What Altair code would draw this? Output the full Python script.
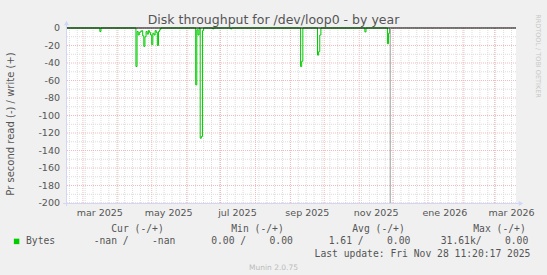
import altair as alt
import pandas as pd

# ---------------- data ----------------
TITLE = "Disk throughput for /dev/loop0 - by year"
Y_TITLE = "Pr second read (-) / write (+)"
WATERMARK = "RRDTOOL / TOBI OETIKER"
FOOTER = "Munin 2.0.75"
LAST_UPDATE = "Last update: Fri Nov 28 11:20:17 2025"
SERIES_NAME = "Bytes"

read_dates = [
    "2025-02-14", "2025-03-15", "2025-03-16", "2025-03-17",
    "2025-04-16", "2025-04-17", "2025-04-18", "2025-04-19", "2025-04-20", "2025-04-21",
    "2025-04-22", "2025-04-23", "2025-04-24", "2025-04-25", "2025-04-26", "2025-04-27",
    "2025-04-28", "2025-04-29", "2025-04-30", "2025-05-01", "2025-05-02", "2025-05-03",
    "2025-05-04", "2025-05-05", "2025-05-06", "2025-05-07", "2025-05-08", "2025-05-09",
    "2025-06-08", "2025-06-09", "2025-06-10", "2025-06-11", "2025-06-12", "2025-06-13",
    "2025-06-14", "2025-06-15", "2025-06-16", "2025-06-24", "2025-06-25", "2025-07-10",
    "2025-07-11",
    "2025-09-09", "2025-09-10", "2025-09-11", "2025-09-12",
    "2025-09-24", "2025-09-25", "2025-09-26", "2025-09-27", "2025-09-28",
    "2025-11-05", "2025-11-06", "2025-11-07",
    "2025-11-25", "2025-11-26", "2025-11-27", "2025-11-28",
]
read_values = [
    0, 0, -4, 0,
    0, -44, -4, -8, -5, -4,
    -3, -9, -21, -10, -4, -7,
    -3, -5, -8, -19, -6, -8,
    -3, -5, -20, -4, -2, 0,
    0, -65, -2, -8, 0, -126,
    -124, -3, 0, -1, 0, -1,
    0,
    0, -44, -38, 0,
    0, -31, -27, -8, 0,
    0, -4.5, 0,
    0, -18, -6, 0,
]

x_label_dates = ["2025-03-16", "2025-05-16", "2025-07-16", "2025-09-16",
                 "2025-11-16", "2026-01-16", "2026-03-16"]
x_label_texts = ["mar 2025", "may 2025", "jul 2025", "sep 2025",
                 "nov 2025", "ene 2026", "mar 2026"]

y_tick_values = [0, -20, -40, -60, -80, -100, -120, -140, -160, -180, -200]
y_tick_labels = ["0", "-20", "-40", "-60", "-80", "-100", "-120", "-140",
                 "-160", "-180", "-200"]
y_minor_values = [-10, -30, -50, -70, -90, -110, -130, -150, -170, -190]

month_starts = ["2025-03-01", "2025-04-01", "2025-05-01", "2025-06-01", "2025-07-01",
                "2025-08-01", "2025-09-01", "2025-10-01", "2025-11-01", "2025-12-01",
                "2026-01-01", "2026-02-01", "2026-03-01"]
now_marker = ["2025-11-28T11:20:17"]

legend_headers = ["Cur (-/+)", "Min (-/+)", "Avg (-/+)", "Max (-/+)"]
legend_values = ["-nan /    -nan", "0.00 /    0.00", "1.61 /    0.00", "31.61k/    0.00"]

# ---------------- layout / style ----------------
W, H = 450, 175
PAD = {"left": 66, "top": 28, "right": 31, "bottom": 72}
FONT = "DejaVu Sans"
MONO = "DejaVu Sans Mono"
TXT = "#555555"
GREEN = "#00cc00"
AXIS = "#cfd6f8"
GRID_MINOR = "#dcdcdc"
GRID_MAJOR = "#f0bcbc"

header_x = [71.5, 191.5, 312.5, 433.5]
value_x = [68.5, 186, 303.5, 418.5]

def loc(d):
    return d if "T" in d else d + "T00:00:00"

week_starts = [d.strftime("%Y-%m-%dT00:00:00")
               for d in pd.date_range("2025-02-17", "2026-03-20", freq="7D")]

x_scale = alt.Scale(domain=[alt.DateTime(year=2025, month=2, date=14),
                            alt.DateTime(year=2026, month=3, date=20)])
y_scale = alt.Scale(domain=[-200, 0], nice=False, zero=False)

series = pd.DataFrame({"d": [loc(d) for d in read_dates], "v": read_values})

layers = []

# grid
layers.append(alt.Chart(pd.DataFrame({"d": week_starts})).mark_rule(
    color=GRID_MINOR, strokeDash=[1, 1], strokeWidth=1).encode(
    x=alt.X("d:T", scale=x_scale, axis=None)))
layers.append(alt.Chart(pd.DataFrame({"v": y_minor_values})).mark_rule(
    color=GRID_MINOR, strokeDash=[1, 1], strokeWidth=1).encode(
    y=alt.Y("v:Q", scale=y_scale, axis=None)))
layers.append(alt.Chart(pd.DataFrame({"d": [loc(d) for d in month_starts]})).mark_rule(
    color=GRID_MAJOR, strokeDash=[1, 1], strokeWidth=1).encode(
    x=alt.X("d:T", scale=x_scale, axis=None)))
layers.append(alt.Chart(pd.DataFrame({"v": y_tick_values})).mark_rule(
    color=GRID_MAJOR, strokeDash=[1, 1], strokeWidth=1).encode(
    y=alt.Y("v:Q", scale=y_scale, axis=None)))

# data
layers.append(alt.Chart(series).mark_line(
    color=GREEN, strokeWidth=1, interpolate="step-after").encode(
    x=alt.X("d:T", scale=x_scale, axis=None),
    y=alt.Y("v:Q", scale=y_scale, axis=None)))

# zero line and now marker
layers.append(alt.Chart(pd.DataFrame({"v": [0]})).mark_rule(
    color="#000000", strokeWidth=1).encode(
    y=alt.Y("v:Q", scale=y_scale, axis=None)))
layers.append(alt.Chart(pd.DataFrame({"d": now_marker})).mark_rule(
    color="#999999", strokeWidth=1).encode(
    x=alt.X("d:T", scale=x_scale, axis=None)))

# axis lines and arrows
layers.append(alt.Chart(pd.DataFrame({"a": [0]})).mark_rule(color=AXIS, strokeWidth=1).encode(
    x=alt.value(-3), x2=alt.value(453), y=alt.value(175.5)))
layers.append(alt.Chart(pd.DataFrame({"a": [0]})).mark_rule(color=AXIS, strokeWidth=1).encode(
    x=alt.value(0.5), y=alt.value(178), y2=alt.value(-3)))
layers.append(alt.Chart(pd.DataFrame({"a": [0]})).mark_point(
    shape="triangle-up", filled=True, color=AXIS, size=25, opacity=1).encode(
    x=alt.value(0.5), y=alt.value(-5)))
layers.append(alt.Chart(pd.DataFrame({"a": [0]})).mark_point(
    shape="triangle-right", filled=True, color=AXIS, size=25, opacity=1).encode(
    x=alt.value(455), y=alt.value(175.5)))

# axis labels
layers.append(alt.Chart(pd.DataFrame({"v": y_tick_values, "t": y_tick_labels})).mark_text(
    align="right", baseline="middle", font=FONT, fontSize=9.5, color=TXT).encode(
    y=alt.Y("v:Q", scale=y_scale, axis=None), x=alt.value(-6), text="t:N"))
layers.append(alt.Chart(pd.DataFrame({"d": [loc(d) for d in x_label_dates],
                                      "t": x_label_texts})).mark_text(
    align="center", baseline="middle", font=FONT, fontSize=9.5, color=TXT).encode(
    x=alt.X("d:T", scale=x_scale, axis=None), y=alt.value(184.8), text="t:N"))

def txt(s, x, y, size, color=TXT, font=FONT, align="center", angle=0, baseline="middle"):
    kw = dict(align=align, baseline=baseline, font=font, fontSize=size, color=color)
    if angle:
        kw["angle"] = angle
    return alt.Chart(pd.DataFrame({"t": [s]})).mark_text(**kw).encode(
        text="t:N", x=alt.value(x), y=alt.value(y))

NB = "\u00a0"
layers.append(txt(TITLE, 207.5, -4, 12.5, baseline="alphabetic"))
layers.append(txt(Y_TITLE, -55.5, 96, 10, angle=270))
layers.append(txt(WATERMARK, 472.3, 28, 6.5, color="#c8c8c8", angle=90))
for s, x in zip(legend_headers, header_x):
    layers.append(txt(s.replace(" ", NB), x, 201.2, 9.7, font=MONO))
for s, x in zip(legend_values, value_x):
    layers.append(txt(s.replace(" ", NB), x, 213.4, 9.7, font=MONO))
layers.append(txt(SERIES_NAME, -40, 213.4, 9.7, font=MONO, align="left"))
layers.append(alt.Chart(pd.DataFrame({"a": [0]})).mark_square(
    size=30, color=GREEN, opacity=1).encode(x=alt.value(-49.4), y=alt.value(213.4)))
layers.append(txt(LAST_UPDATE.replace(" ", NB), 356.5, 226.3, 9.7, font=MONO))
layers.append(txt(FOOTER, 207.5, 239.6, 7.5, color="#bbbbbb"))

chart = alt.layer(*layers).properties(
    width=W, height=H, padding=PAD,
    autosize=alt.AutoSizeParams(type="none"),
    background="#f0f0f0",
).configure_view(stroke=None, fill="#ffffff")

chart.save("out.html", embed_options={"renderer": "svg", "actions": False})
